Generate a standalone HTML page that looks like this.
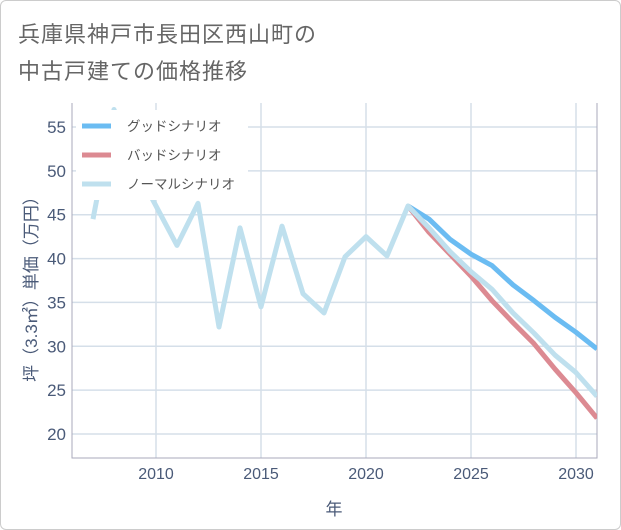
<!DOCTYPE html>
<html><head><meta charset="utf-8"><style>
html,body{margin:0;padding:0;background:#fff;}
#card{position:absolute;left:0;top:0;width:619px;height:528px;border:1px solid #ccc;border-radius:6px;background:#fff;}
.t{position:absolute;left:18px;font:22px "Liberation Sans","Noto Sans CJK JP",sans-serif;color:#666;letter-spacing:1px;}
</style></head><body>
<div id="card"></div>
<div class="t" style="top:17px">兵庫県神戸市長田区西山町の</div>
<div class="t" style="top:54px">中古戸建ての価格推移</div>
<svg id="c" width="621" height="530" style="position:absolute;left:0;top:0" font-family="Liberation Sans, Noto Sans CJK JP, sans-serif"></svg>
<script>
const years=[2007,2008,2009,2010,2011,2012,2013,2014,2015,2016,2017,2018,2019,2020,2021,2022,2023,2024,2025,2026,2027,2028,2029,2030,2031];
const normal=[44.5,57,50.5,46,41.5,46.3,32.2,43.5,34.5,43.7,36,33.8,40.2,42.5,40.3,46,43.5,40.8,38.5,36.5,33.8,31.5,29,27,24.3];
const futureYears=[2022,2023,2024,2025,2026,2027,2028,2029,2030,2031];
const good=[46,44.5,42.2,40.5,39.2,37,35.2,33.3,31.6,29.7];
const bad=[46,43,40.5,38,35.2,32.7,30.3,27.4,24.7,21.8];
const xTicks=[2010,2015,2020,2025,2030];
const yTicks=[20,25,30,35,40,45,50,55];
const L=72,R=597,T=103,B=458;
const x=v=>156+(v-2010)*21;
const y=v=>127+(55-v)*307/35;
const TC='#4a5a78';
const svg=document.getElementById('c');const NS='http://www.w3.org/2000/svg';
function mk(t,a,p){const e=document.createElementNS(NS,t);for(const k in a)e.setAttribute(k,a[k]);(p||svg).appendChild(e);return e;}
const defs=mk('defs',{});const cp=mk('clipPath',{id:'pc'},defs);mk('rect',{x:L,y:T,width:R-L,height:B-T},cp);
for(const v of xTicks){const l=mk('line',{x1:x(v),x2:x(v),y1:T,y2:B,stroke:'#d5dfe9','stroke-width':1.5});


const t=mk('text',{x:x(v),y:479,'text-anchor':'middle','font-size':16,fill:TC});t.textContent=v;

}
for(const v of yTicks){const l=mk('line',{x1:L,x2:R,y1:y(v),y2:y(v),stroke:'#d5dfe9','stroke-width':1.5});


const t=mk('text',{x:66,y:y(v)+6,'text-anchor':'end','font-size':17,fill:TC});t.textContent=v;

}
const ax=mk('path',{d:`M${L} ${T}V${B}H${R}V${T}`,fill:'none',stroke:'#aab',"stroke-width":1});


const g=mk('g',{'clip-path':'url(#pc)'});
function line(xs,vs,c,name){const p=mk('path',{d:xs.map((v,i)=>(i?'L':'M')+x(v)+' '+y(vs[i])).join(''),fill:'none',stroke:c,'stroke-width':5,'stroke-linejoin':'round'},g);

}
line(futureYears,good,'#6bbcf2','good-scenario-line');
line(futureYears,bad,'#dc8a92','bad-scenario-line');
line(years,normal,'#bfe0ee','normal-scenario-line');
const lg=mk('rect',{x:76,y:110,width:172,height:90,fill:'#fff'});


const items=[['グッドシナリオ','#6bbcf2'],['バッドシナリオ','#dc8a92'],['ノーマルシナリオ','#bfe0ee']];
items.forEach((it,i)=>{const yy=126+i*29;
const s=mk('line',{x1:82,x2:111,y1:yy,y2:yy,stroke:it[1],'stroke-width':5});


const t=mk('text',{x:127,y:yy+5,'font-size':13.5,fill:'#555'});t.textContent=it[0];

});
const xt=mk('text',{x:334,y:515,'text-anchor':'middle','font-size':17,fill:TC});xt.textContent='年';


const yt=mk('text',{x:0,y:0,'text-anchor':'middle','font-size':17,fill:TC,transform:'translate(37,285) rotate(-90)'});yt.textContent='坪（3.3㎡）単価（万円）';


</script>
</body></html>
